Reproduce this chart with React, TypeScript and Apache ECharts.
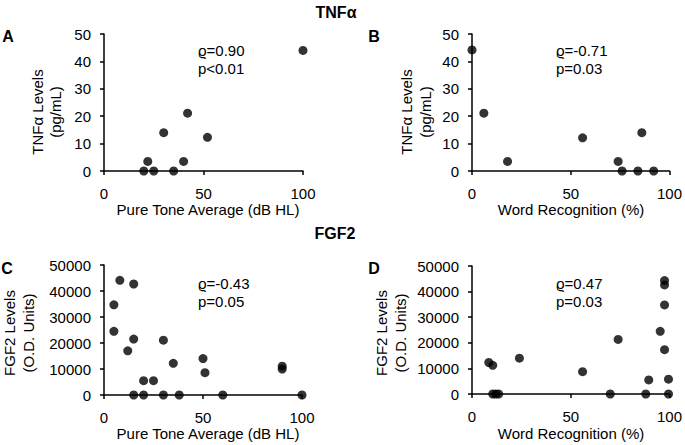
import React, { useEffect, useRef } from "react";
import * as echarts from "echarts";

const aX = [100, 42, 30, 52, 22, 40, 20, 25, 35];
const aY = [44, 21.1, 14, 12.3, 3.5, 3.5, 0, 0, 0];
const bX = [0, 6, 18, 56, 86, 74, 76, 84, 92];
const bY = [44.2, 21.1, 3.5, 12.1, 14, 3.5, 0, 0, 0];
const cX = [8, 15, 5, 5, 15, 30, 12, 50, 35, 51, 90, 90, 20, 25, 15, 20, 30, 38, 60, 100];
const cY = [44100, 42700, 34700, 24500, 21500, 21100, 17000, 14000, 12200, 8600, 11100, 10000, 5500, 5500, 0, 0, 0, 0, 0, 0];
const dX = [97.5, 97.5, 97.5, 95.3, 97.5, 74, 24, 8.5, 10.5, 56, 89.5, 99.5, 10.5, 12, 13.5, 70, 88, 99.5];
const dY = [44300, 42600, 34800, 24500, 17300, 21300, 14000, 12300, 11200, 8700, 5500, 5800, 0, 0, 0, 0, 0, 0];

const xTicksInterval = 50;
const tnfMax = 50;
const tnfInterval = 10;
const fgfMax = 50000;
const fgfInterval = 10000;

const titles = ["TNFα", "FGF2"];
const letters = ["A", "B", "C", "D"];
const xNames = ["Pure Tone Average (dB HL)", "Word Recognition (%)", "Pure Tone Average (dB HL)", "Word Recognition (%)"];
const yNames = [["TNFα Levels", "(pg/mL)"], ["TNFα Levels", "(pg/mL)"], ["FGF2 Levels", "(O.D. Units)"], ["FGF2 Levels", "(O.D. Units)"]];
const stats = [["ϱ=0.90", "p<0.01"], ["ϱ=-0.71", "p=0.03"], ["ϱ=-0.43", "p=0.05"], ["ϱ=0.47", "p=0.03"]];

const FONT = "'Liberation Sans', Arial, sans-serif";

export default function App() {
  const ref = useRef<HTMLDivElement>(null);
  useEffect(() => {
    const chart = echarts.init(ref.current!, null, { renderer: "svg" });
    const grids = [
      { left: 104, top: 34, width: 199, height: 137 },
      { left: 472, top: 34, width: 199, height: 137 },
      { left: 104, top: 265, width: 198, height: 130 },
      { left: 472, top: 266, width: 198, height: 128 },
    ];
    const axisLine = { show: true, onZero: false, lineStyle: { color: "#000", width: 1.5 } };
    const axisTick = { show: true, length: 4, lineStyle: { color: "#000", width: 1.5 } };
    const fmt = (v: number) => String(v);
    const xAxis = grids.map((_, i) => ({
      type: "value",
      gridIndex: i,
      min: 0,
      max: 100,
      interval: xTicksInterval,
      axisLine,
      axisTick,
      splitLine: { show: false },
      axisLabel: { color: "#000", fontSize: 15, fontFamily: FONT, margin: 16, lineHeight: 12, formatter: fmt },
    }));
    const yAxis = grids.map((_, i) => ({
      type: "value",
      gridIndex: i,
      min: 0,
      max: i < 2 ? tnfMax : fgfMax,
      interval: i < 2 ? tnfInterval : fgfInterval,
      axisLine,
      axisTick,
      splitLine: { show: false },
      axisLabel: { color: "#000", fontSize: 15, fontFamily: FONT, margin: 13, formatter: fmt },
    }));
    const datasets = [
      [aX, aY],
      [bX, bY],
      [cX, cY],
      [dX, dY],
    ];
    const series = datasets.map(([xs, ys], i) => ({
      type: "scatter",
      xAxisIndex: i,
      yAxisIndex: i,
      symbolSize: 9,
      itemStyle: { color: "#000" },
      data: xs.map((x, k) => [x, ys[k]]),
    }));

    const txt = (text: string, x: number, y: number, opts: any = {}) => ({
      type: "text",
      x,
      y,
      rotation: opts.rotation || 0,
      style: {
        text,
        fill: "#000",
        fontSize: opts.fontSize || 15,
        fontWeight: opts.bold ? "bold" : "normal",
        fontFamily: FONT,
        lineHeight: opts.lineHeight || undefined,
        textAlign: opts.align || "center",
        textVerticalAlign: "middle",
      },
    });

    const xNamePos = [[208, 209.5], [571, 209.5], [208, 433], [571, 433]];
    const yNamePos = [
      [37, 55, 112],
      [406, 425, 112],
      [9, 28, 333],
      [381, 400, 333],
    ];
    const letterPos = [[8, 36], [374, 36], [7, 268], [374, 268]];
    const statPos = [[198, 50, 68.5], [556, 50, 68.5], [198, 283, 301], [556, 283, 301]];

    const graphics: any[] = [];
    graphics.push(txt(titles[0], 336, 12, { bold: true, fontSize: 16 }));
    graphics.push(txt(titles[1], 335, 233, { bold: true, fontSize: 16 }));
    for (let i = 0; i < 4; i++) {
      graphics.push(txt(letters[i], letterPos[i][0], letterPos[i][1], { bold: true, fontSize: 16 }));
      graphics.push(txt(xNames[i], xNamePos[i][0], xNamePos[i][1], { lineHeight: 12 }));
      graphics.push(txt(yNames[i][0], yNamePos[i][0], yNamePos[i][2], { rotation: Math.PI / 2 }));
      graphics.push(txt(yNames[i][1], yNamePos[i][1], yNamePos[i][2], { rotation: Math.PI / 2 }));
      graphics.push(txt(stats[i][0], statPos[i][0], statPos[i][1], { align: "left" }));
      graphics.push(txt(stats[i][1], statPos[i][0], statPos[i][2], { align: "left" }));
    }

    chart.setOption({
      animation: false,
      backgroundColor: "#fff",
      grid: grids,
      xAxis,
      yAxis,
      series,
      graphic: graphics,
    } as any);
    return () => chart.dispose();
  }, []);
  return (
    <div
      ref={ref}
      style={{ position: "fixed", left: 0, top: 0, width: 685, height: 445, background: "#fff" }}
    />
  );
}
